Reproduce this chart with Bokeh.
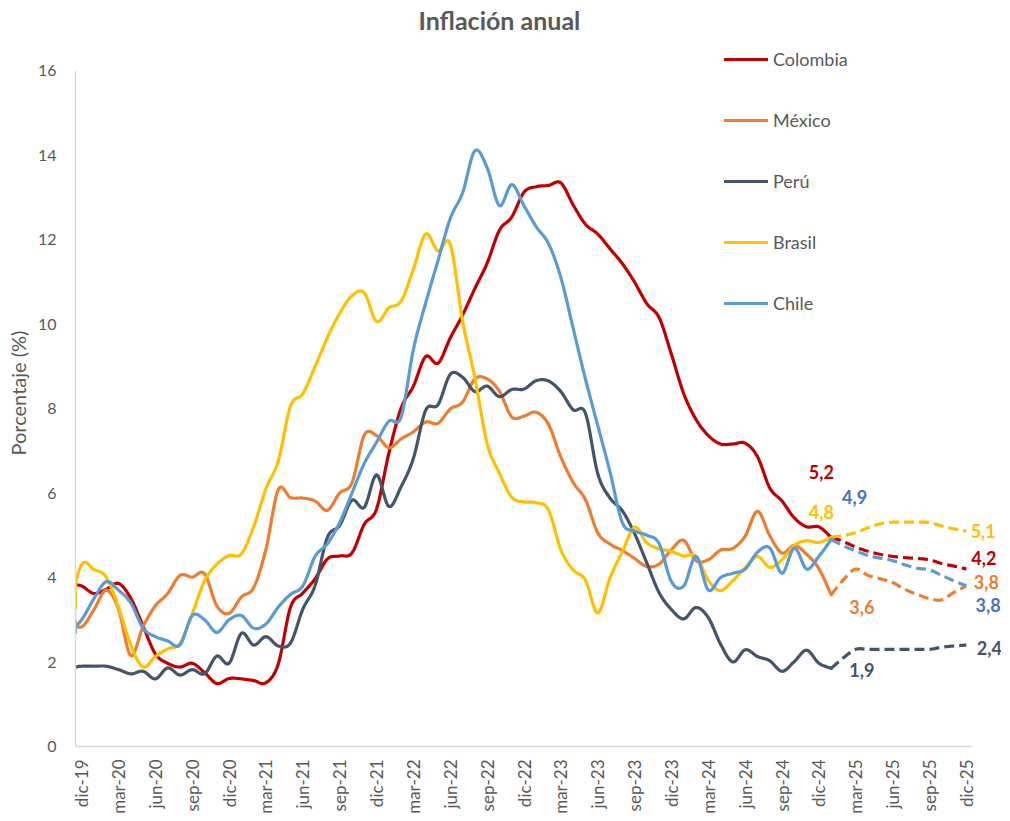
import math
import numpy as np
from bokeh.plotting import figure
from bokeh.models import Range1d, FixedTicker, Label, Legend, LegendItem, Title
from bokeh.embed import file_html
from bokeh.resources import INLINE

# ---------------- data ----------------
tick_labels = ["dic-19", "mar-20", "jun-20", "sep-20", "dic-20", "mar-21", "jun-21", "sep-21",
               "dic-21", "mar-22", "jun-22", "sep-22", "dic-22", "mar-23", "jun-23", "sep-23",
               "dic-23", "mar-24", "jun-24", "sep-24", "dic-24", "mar-25", "jun-25", "sep-25", "dic-25"]
tick_pos = list(range(0, 73, 3))  # month index, 0 = dic-19

# observed: nov-19 (index -1) .. ene-25 (index 61)
obs_idx = list(range(-1, 62))
colombia = [3.84, 3.80,
            3.62, 3.72, 3.86, 3.51, 2.85, 2.19, 1.97, 1.88, 1.97, 1.75, 1.49, 1.61,
            1.60, 1.56, 1.51, 1.95, 3.30, 3.63, 3.97, 4.44, 4.51, 4.58, 5.26, 5.62,
            6.94, 8.01, 8.53, 9.23, 9.07, 9.67, 10.21, 10.84, 11.44, 12.22, 12.53, 13.12,
            13.25, 13.28, 13.34, 12.82, 12.36, 12.13, 11.78, 11.43, 10.99, 10.48, 10.15, 9.28,
            8.35, 7.74, 7.36, 7.16, 7.16, 7.18, 6.86, 6.12, 5.81, 5.41, 5.20, 5.20,
            4.95]
mexico = [2.97, 2.83,
          3.24, 3.70, 3.25, 2.15, 2.84, 3.33, 3.62, 4.05, 4.01, 4.09, 3.33, 3.15,
          3.54, 3.76, 4.67, 6.08, 5.89, 5.88, 5.81, 5.59, 6.00, 6.24, 7.37, 7.36,
          7.07, 7.28, 7.45, 7.68, 7.65, 7.99, 8.15, 8.70, 8.70, 8.41, 7.80, 7.82,
          7.91, 7.62, 6.85, 6.25, 5.84, 5.06, 4.79, 4.64, 4.45, 4.26, 4.32, 4.66,
          4.88, 4.40, 4.42, 4.65, 4.69, 4.98, 5.57, 4.99, 4.58, 4.76, 4.55, 4.21,
          3.59]
peru = [1.87, 1.90,
        1.90, 1.90, 1.82, 1.72, 1.78, 1.60, 1.86, 1.69, 1.82, 1.72, 2.14, 1.97,
        2.68, 2.40, 2.60, 2.38, 2.45, 3.25, 3.81, 4.95, 5.23, 5.83, 5.66, 6.43,
        5.68, 6.15, 6.82, 7.96, 8.09, 8.81, 8.74, 8.40, 8.53, 8.28, 8.45, 8.46,
        8.66, 8.65, 8.40, 7.97, 7.89, 6.46, 5.88, 5.58, 5.04, 4.34, 3.64, 3.24,
        3.02, 3.29, 3.05, 2.42, 2.00, 2.29, 2.13, 2.03, 1.78, 2.01, 2.28, 1.97,
        1.85]
brasil = [3.27, 4.31,
          4.19, 4.01, 3.30, 2.40, 1.88, 2.13, 2.31, 2.44, 3.14, 3.92, 4.31, 4.52,
          4.56, 5.20, 6.10, 6.76, 8.06, 8.35, 8.99, 9.68, 10.25, 10.67, 10.74, 10.06,
          10.38, 10.54, 11.30, 12.13, 11.73, 11.89, 10.07, 8.73, 7.17, 6.47, 5.90, 5.79,
          5.77, 5.60, 4.65, 4.18, 3.94, 3.16, 3.99, 4.61, 5.19, 4.82, 4.68, 4.62,
          4.51, 4.50, 3.93, 3.69, 3.93, 4.23, 4.50, 4.24, 4.42, 4.76, 4.87, 4.83,
          4.95]
chile = [2.7, 3.0,
         3.5, 3.9, 3.7, 3.4, 2.8, 2.6, 2.5, 2.4, 3.1, 3.0, 2.7, 3.0,
         3.1, 2.8, 2.9, 3.3, 3.6, 3.8, 4.5, 4.8, 5.3, 6.0, 6.7, 7.2,
         7.7, 7.8, 9.4, 10.5, 11.5, 12.5, 13.1, 14.1, 13.7, 12.8, 13.3, 12.8,
         12.3, 11.9, 11.1, 9.9, 8.7, 7.6, 6.5, 5.3, 5.1, 5.0, 4.8, 3.9,
         3.8, 4.5, 3.7, 4.0, 4.1, 4.2, 4.6, 4.7, 4.1, 4.7, 4.2, 4.5,
         4.9]

# projections: ene-25 (61) .. dic-25 (72)
proj_idx = list(range(61, 73))
colombia_p = [4.95, 4.85, 4.72, 4.62, 4.55, 4.50, 4.47, 4.45, 4.42, 4.33, 4.27, 4.20]
mexico_p = [3.59, 3.95, 4.20, 4.05, 3.97, 3.88, 3.72, 3.60, 3.50, 3.47, 3.65, 3.80]
peru_p = [1.85, 2.10, 2.30, 2.30, 2.30, 2.30, 2.30, 2.30, 2.30, 2.35, 2.38, 2.40]
brasil_p = [4.95, 5.00, 5.06, 5.18, 5.27, 5.31, 5.31, 5.31, 5.30, 5.22, 5.15, 5.10]
chile_p = [4.90, 4.75, 4.63, 4.52, 4.46, 4.40, 4.30, 4.22, 4.18, 4.05, 3.92, 3.80]

names = ["Colombia", "México", "Perú", "Brasil", "Chile"]
colors = ["#C00000", "#ED7D31", "#44546A", "#FFC000", "#5B9BD5"]
obs = [colombia, mexico, peru, brasil, chile]
proj = [colombia_p, mexico_p, peru_p, brasil_p, chile_p]

# value labels: (text, x index, y value, color, align)
last_labels = [("5,2", 60.2, 6.49, "#C00000", "center"), ("4,8", 60.2, 5.54, "#FFC000", "center"),
               ("4,9", 62.9, 5.90, "#4472C4", "center"), ("3,6", 63.5, 3.31, "#ED7D31", "center"),
               ("1,9", 63.5, 1.80, "#44546A", "center")]
end_labels = [("5,1", 72.35, 5.11, "#FFC000", "left"), ("4,2", 72.4, 4.47, "#C00000", "left"),
              ("3,8", 72.6, 3.90, "#ED7D31", "left"), ("3,8", 72.75, 3.34, "#4472C4", "left"),
              ("2,4", 72.85, 2.34, "#44546A", "left")]

FONT = "Lato"
GREY = "#595959"


def smooth(xs, ys, n=10):
    """Catmull-Rom smoothing (like Excel's smoothed line) for drawing only."""
    P = np.column_stack([np.asarray(xs, float), np.asarray(ys, float)])
    out = []
    m = len(P)
    for i in range(m - 1):
        p0 = P[i - 1] if i > 0 else P[i]
        p1 = P[i]
        p2 = P[i + 1]
        p3 = P[i + 2] if i + 2 < m else P[i + 1]
        for t in np.linspace(0, 1, n, endpoint=False):
            t2, t3 = t * t, t * t * t
            pt = 0.5 * ((2 * p1) + (-p0 + p2) * t + (2 * p0 - 5 * p1 + 4 * p2 - p3) * t2
                        + (-p0 + 3 * p1 - 3 * p2 + p3) * t3)
            out.append(pt)
    out.append(P[-1])
    out = np.array(out)
    return out[:, 0], out[:, 1]


FW, FH = 926, 746
PX_PER_X = 897 / 73.0
PX_PER_Y = 676 / 16.0
p = figure(frame_width=FW, frame_height=FH,
           x_range=Range1d(-0.5, -0.5 + FW / PX_PER_X), y_range=Range1d(0, FH / PX_PER_Y),
           output_backend="svg", toolbar_location=None,
           min_border_left=70, min_border_right=0, min_border_top=0, min_border_bottom=75)
p.title.visible = False
p.outline_line_color = None
p.xgrid.visible = False
p.ygrid.visible = False
p.background_fill_color = "white"
p.border_fill_color = "white"

items = []
for name, col, o, pr in zip(names, colors, obs, proj):
    sx, sy = smooth(obs_idx, o)
    sx = np.clip(sx, -0.5, None)
    r = p.line(sx, sy, line_color=col, line_width=3.2, line_join="round", line_cap="round")
    px_, py_ = smooth(proj_idx, pr)
    p.line(px_, py_, line_color=col, line_width=3.2, line_dash="10 5")
    items.append(LegendItem(label=name, renderers=[r]))

legend = Legend(items=items, location=(649, 432), orientation="vertical",
                glyph_width=44, glyph_height=20, label_height=20, spacing=39,
                label_standoff=5, padding=0, margin=0,
                border_line_alpha=0, background_fill_alpha=0,
                label_text_font=FONT, label_text_font_size="18px", label_text_color=GREY)
p.add_layout(legend, "center")

# axes
xa = p.xaxis[0]
xa.bounds = (-0.5, 72.5)
xa.ticker = FixedTicker(ticks=tick_pos)
xa.major_label_overrides = {t: l for t, l in zip(tick_pos, tick_labels)}
xa.major_label_orientation = math.pi / 2
xa.major_tick_out = 0
xa.major_tick_in = 0
xa.minor_tick_out = 0
xa.minor_tick_in = 0
xa.major_label_standoff = 13
xa.axis_line_color = "#D9D9D9"
xa.axis_line_width = 1.5
xa.major_label_text_font = FONT
xa.major_label_text_font_size = "17px"
xa.major_label_text_color = GREY

ya = p.yaxis[0]
ya.bounds = (0, 16)
ya.ticker = FixedTicker(ticks=list(range(0, 17, 2)))
ya.major_tick_out = 0
ya.major_tick_in = 0
ya.minor_tick_out = 0
ya.minor_tick_in = 0
ya.major_label_standoff = 19
ya.axis_line_color = "#D9D9D9"
ya.axis_line_width = 1.5
ya.major_label_text_font = FONT
ya.major_label_text_font_size = "16px"
ya.major_label_text_color = GREY

# y axis title, placed along the value axis (starts at the bottom)
p.add_layout(Title(text="Porcentaje (%)", align="left", offset=291, vertical_align="middle",
                   standoff=8, text_font=FONT, text_font_size="20px",
                   text_font_style="normal", text_color=GREY), "left")

# chart title
p.add_layout(Label(x=34.0, y=17.2, text="Inflación anual", text_align="center",
                   text_baseline="middle", text_font=FONT, text_font_size="25px",
                   text_font_style="bold", text_color=GREY))

for txt, x, y, c, al in last_labels + end_labels:
    p.add_layout(Label(x=x, y=y, text=txt, text_align=al, text_baseline="middle",
                       text_font=FONT, text_font_size="18px", text_font_style="bold",
                       text_color=c))

open("out.html", "w").write(file_html(p, INLINE))
